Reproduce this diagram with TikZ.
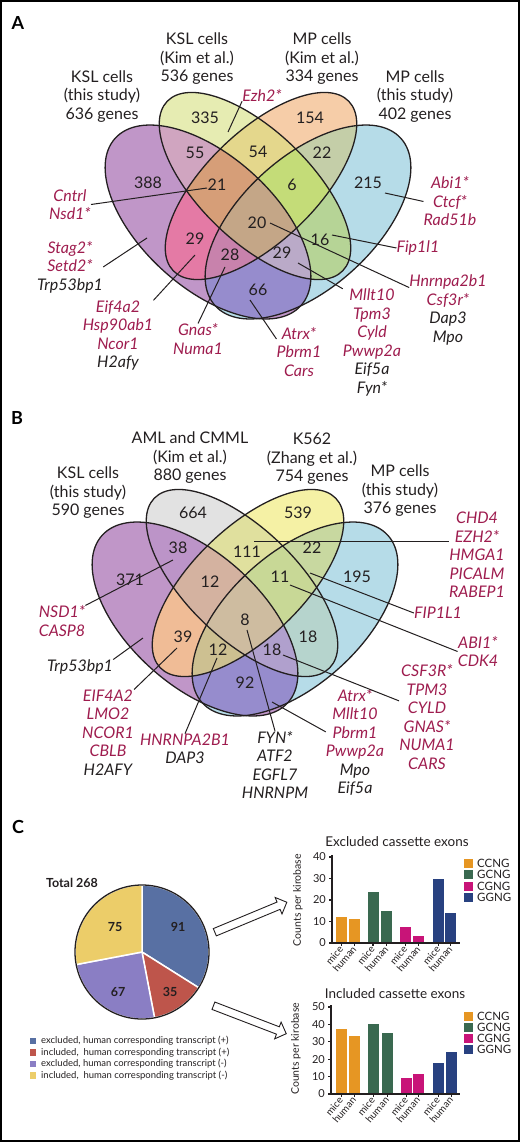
\documentclass[tikz,border=0pt]{standalone}
\usepackage{fontspec}
\setmainfont{Lato}
\usetikzlibrary{shapes.arrows}

% colours of the labels, the pie and the bars
\definecolor{gred}{RGB}{158,28,78}
\definecolor{ink}{RGB}{35,31,32}
\definecolor{pBlue}{RGB}{88,112,163}
\definecolor{pRed}{RGB}{190,85,75}
\definecolor{pPurple}{RGB}{138,126,196}
\definecolor{pYellow}{RGB}{236,205,105}
\definecolor{bCC}{RGB}{230,150,35}
\definecolor{bGC}{RGB}{58,105,80}
\definecolor{bCG}{RGB}{200,20,120}
\definecolor{bGG}{RGB}{40,65,128}

\newcommand{\blk}[1]{\textcolor{ink}{#1}}

% The four ellipses of a venn panel (coordinates of panel A)
\def\ellA{(208,222) ellipse (125 and 66)}   % outer left
\def\ellB{(255,186) ellipse (122 and 55)}   % inner left
\def\ellC{(261,186) ellipse (122 and 55)}   % inner right
\def\ellD{(308,222) ellipse (125 and 66)}   % outer right
\def\bigbox{(-300,-300) rectangle (800,800)}

% One region: 1 = inside, 0 = outside, for A, B, C, D, then its RGB colour
\newcommand{\vregion}[5]{%
    \begin{scope}[even odd rule]
        \ifnum#1=1 \clip[rotA] \ellA; \else \clip[rotA] \bigbox \ellA; \fi
        \ifnum#2=1 \clip[rotB] \ellB; \else \clip[rotB] \bigbox \ellB; \fi
        \ifnum#3=1 \clip[rotC] \ellC; \else \clip[rotC] \bigbox \ellC; \fi
        \ifnum#4=1 \clip[rotD] \ellD; \else \clip[rotD] \bigbox \ellD; \fi
        \definecolor{vtmp}{RGB}{#5}
        \fill[vtmp] \bigbox;
    \end{scope}}

\begin{document}
\begin{tikzpicture}[
    x=1pt, y=-1pt,
    rotA/.style={rotate around={-42:(208,222)}},
    rotB/.style={rotate around={-44:(255,186)}},
    rotC/.style={rotate around={44:(261,186)}},
    rotD/.style={rotate around={42:(308,222)}},
    venn/.style={line width=1.3pt, ink},
    lead/.style={line width=1pt, ink},
    num/.style={font=\fontsize{16}{18}\selectfont, inner sep=0pt, ink},
    head/.style={font=\fontsize{16}{18.5}\selectfont, align=center, inner sep=0pt, ink},
    gene/.style={font=\fontsize{16}{18.5}\selectfont\itshape, align=center, inner sep=0pt, text=gred},
    letter/.style={font=\fontsize{18}{18}\selectfont\bfseries, inner sep=0pt},
    pienum/.style={font=\fontsize{12.5}{13}\selectfont\bfseries, inner sep=0pt, ink},
    axis/.style={line width=1.3pt, ink},
    tick/.style={font=\fontsize{11}{11}\selectfont, inner sep=0pt, ink},
    xlab/.style={font=\fontsize{10}{10}\selectfont, rotate=50, anchor=east, inner sep=0.5pt, ink},
    ylab/.style={font=\fontsize{10.5}{11}\selectfont, rotate=90, inner sep=0pt, ink},
    ttl/.style={font=\fontsize{13.5}{14}\selectfont, inner sep=0pt, ink},
    leg/.style={font=\fontsize{11.5}{12}\selectfont, inner sep=0pt, anchor=west, ink},
    hollow/.style={single arrow, draw=ink, fill=white, line width=0.9pt, minimum height=78pt,
        inner sep=3.5pt, single arrow head extend=5pt}
    ]

    % Determines the boundries
    \useasboundingbox (0,0) rectangle (520,1142);
    \draw[line width=2pt] (1,1) rectangle (519,1141);

    %%%%%%%%%%%%%%%%%%%%%%%% Panel A
    \node[letter] (lA) at (18,23) {A};

    % Region fills
    \vregion{1}{0}{0}{0}{192,150,200}
    \vregion{0}{1}{0}{0}{230,236,178}
    \vregion{0}{0}{1}{0}{246,205,168}
    \vregion{0}{0}{0}{1}{182,220,232}
    \vregion{1}{1}{0}{0}{208,165,192}
    \vregion{0}{1}{1}{0}{228,215,140}
    \vregion{0}{0}{1}{1}{196,206,168}
    \vregion{1}{0}{0}{1}{150,140,205}
    \vregion{1}{0}{1}{0}{228,122,165}
    \vregion{0}{1}{0}{1}{182,212,150}
    \vregion{1}{1}{1}{0}{214,158,120}
    \vregion{0}{1}{1}{1}{196,220,120}
    \vregion{1}{1}{0}{1}{186,170,200}
    \vregion{1}{0}{1}{1}{200,130,172}
    \vregion{1}{1}{1}{1}{196,166,135}

    % Outlines
    \draw[venn, rotA] \ellA;
    \draw[venn, rotB] \ellB;
    \draw[venn, rotC] \ellC;
    \draw[venn, rotD] \ellD;

    % Set names
    \node[head] (hA1) at (102,96.5) {KSL cells\\(this study)\\636 genes};
    \node[head] (hA2) at (197,59) {KSL cells\\(Kim et al.)\\536 genes};
    \node[head] (hA3) at (322,59) {MP cells\\(Kim et al.)\\334 genes};
    \node[head] (hA4) at (415,96.5) {MP cells\\(this study)\\402 genes};

    % Counts
    \foreach \x/\y/\t/\n in {148/183/388/a1, 205/118/335/a2, 310/118/154/a3, 368/183/215/a4,
        195/153/55/a5, 258/152/54/a6, 322/153/22/a7, 217/185/21/a8, 292/185/6/a9,
        195/239/29/a10, 257/223/20/a11, 320/240/16/a12, 230/255/28/a13, 282/253/29/a14, 258/290/66/a15}
        \node[num] (n\n) at (\x,\y) {\t};

    % Genes
    \node[gene] (gEzh) at (262,95) {Ezh2*};
    \node[gene] (gCnt) at (70,204.5) {Cntrl\\Nsd1*};
    \node[gene] (gSta) at (70,267) {Stag2*\\Setd2*\\\blk{Trp53bp1}};
    \node[gene] (gEif) at (118,335.5) {Eif4a2\\Hsp90ab1\\Ncor1\\\blk{H2afy}};
    \node[gene] (gGna) at (198,339) {Gnas*\\Numa1};
    \node[gene] (gAbi) at (450,201.5) {Abi1*\\Ctcf*\\Rad51b};
    \node[gene] (gFip) at (418,248) {Fip1l1};
    \node[gene] (gHnr) at (448,310) {Hnrnpa2b1\\Csf3r*\\\blk{Dap3}\\\blk{Mpo}};
    \node[gene] (gMll) at (372,342.5) {Mllt10\\Tpm3\\Cyld\\Pwwp2a\\\blk{Eif5a}\\\blk{Fyn*}};
    \node[gene] (gAtr) at (299,352) {Atrx*\\Pbrm1\\Cars};

    \coordinate (pEzh) at (228,132);
    \coordinate (pCnt) at (207,188);
    \coordinate (pSta) at (147,238);
    \coordinate (pEif) at (195,255);
    \coordinate (pGna) at (225,267);
    \coordinate (pAbi) at (385,193);
    \coordinate (pFip) at (332,235);
    \coordinate (pHnr) at (270,223);
    \coordinate (pMll) at (298,263);
    \coordinate (pAtr) at (250,300);

    \draw[lead] (pEzh) -- (gEzh.south west);
    \draw[lead] (pCnt) -- (gCnt.east);
    \draw[lead] (pSta) -- (gSta.east);
    \draw[lead] (pEif) -- (gEif.north east);
    \draw[lead] (pGna) -- (gGna.north);
    \draw[lead] (pAbi) -- (gAbi.west);
    \draw[lead] (pFip) -- (gFip.west);
    \draw[lead] (pHnr) -- (gHnr.150);
    \draw[lead] (pMll) -- (gMll.north west);
    \draw[lead] (pAtr) -- (gAtr.150);

    %%%%%%%%%%%%%%%%%%%%%%%% Panel B
    \node[letter] (lB) at (17,418) {B};

    \begin{scope}[shift={(-13,397)}]
        \vregion{1}{0}{0}{0}{192,150,200}
        \vregion{0}{1}{0}{0}{226,226,226}
        \vregion{0}{0}{1}{0}{245,241,165}
        \vregion{0}{0}{0}{1}{182,220,232}
        \vregion{1}{1}{0}{0}{188,148,200}
        \vregion{0}{1}{1}{0}{224,224,158}
        \vregion{0}{0}{1}{1}{200,216,160}
        \vregion{1}{0}{0}{1}{150,140,205}
        \vregion{1}{0}{1}{0}{240,188,150}
        \vregion{0}{1}{0}{1}{182,212,205}
        \vregion{1}{1}{1}{0}{212,178,160}
        \vregion{0}{1}{1}{1}{200,216,150}
        \vregion{1}{1}{0}{1}{176,160,205}
        \vregion{1}{0}{1}{1}{205,192,145}
        \vregion{1}{1}{1}{1}{206,188,160}

        \draw[venn, rotA] \ellA;
        \draw[venn, rotB] \ellB;
        \draw[venn, rotC] \ellC;
        \draw[venn, rotD] \ellD;
    \end{scope}

    \node[head] (hB1) at (88,493) {KSL cells\\(this study)\\590 genes};
    \node[head] (hB2) at (190,458) {AML and CMML\\(Kim et al.)\\880 genes};
    \node[head] (hB3) at (312,459) {K562\\(Zhang et al.)\\754 genes};
    \node[head] (hB4) at (400,491) {MP cells\\(this study)\\376 genes};

    \foreach \x/\y/\t/\n in {130/580/371/b1, 193/513/664/b2, 298/513/539/b3, 357/577/195/b4,
        178/548/38/b5, 247/552/111/b6, 312/548/22/b7, 210/582/12/b8, 280/577/11/b9,
        183/637/39/b10, 245/620/8/b11, 308/637/18/b12, 218/650/12/b13, 272/650/18/b14, 245/683/92/b15}
        \node[num] (n\n) at (\x,\y) {\t};

    \node[gene] (gNsd) at (62,621) {NSD1*\\CASP8};
    \node[gene, text=ink] (gTrp) at (80,667) {Trp53bp1};
    \node[gene] (gEIF) at (108,732.5) {EIF4A2\\LMO2\\NCOR1\\CBLB\\\blk{H2AFY}};
    \node[gene] (gHNR) at (185,749) {HNRNPA2B1\\\blk{DAP3}};
    \node[gene, text=ink] (gFYN) at (275,765) {FYN*\\ATF2\\EGFL7\\HNRNPM};
    \node[gene] (gATR) at (355,742.5) {Atrx*\\Mllt10\\Pbrm1\\Pwwp2a\\\blk{Mpo}\\\blk{Eif5a}};
    \node[gene] (gCSF) at (427,717) {CSF3R*\\TPM3\\CYLD\\GNAS*\\NUMA1\\CARS};
    \node[gene] (gABI) at (478,651.5) {ABI1*\\CDK4};
    \node[gene] (gFIP) at (438,613) {FIP1L1};
    \node[gene] (gCHD) at (477,555) {CHD4\\EZH2*\\HMGA1\\PICALM\\RABEP1};

    \coordinate (pNsd) at (173,560);
    \coordinate (pTrp) at (143,638);
    \coordinate (pEIF) at (177,648);
    \coordinate (pHNR) at (217,658);
    \coordinate (pFYN) at (247,630);
    \coordinate (pATR) at (272,702);
    \coordinate (pCSF) at (283,655);
    \coordinate (pABI) at (290,585);
    \coordinate (pFIP) at (310,573);
    \coordinate (pCHD) at (254,541);

    \draw[lead] (pNsd) -- (gNsd.north east);
    \draw[lead] (pTrp) -- (gTrp.north east);
    \draw[lead] (pEIF) -- (gEIF.north east);
    \draw[lead] (pHNR) -- (gHNR.north);
    \draw[lead] (pFYN) -- (gFYN.north);
    \draw[lead] (pATR) -- (gATR.160);
    \draw[lead] (pCSF) -- (gCSF.150);
    \draw[lead] (pABI) -- (gABI.west);
    \draw[lead] (pFIP) -- (gFIP.west);
    \draw[lead] (pCHD) -- (gCHD.west |- pCHD);

    %%%%%%%%%%%%%%%%%%%%%%%% Panel C
    \node[letter] (lC) at (18,827) {C};
    \node[pienum] (tot) at (72,883) {Total 268};

    % Pie
    \begin{scope}[shift={(142,952)}, y=1pt]
        \def\r{67}
        \foreach \a/\b/\c in {90/-32.2/pBlue, -32.2/-79.2/pRed, -79.2/-169.2/pPurple, -169.2/-270/pYellow}{
            \fill[\c, draw=white, line width=1.5pt] (0,0) -- (\a:\r)
                arc[start angle=\a, end angle=\b, radius=\r] -- cycle;
        }
        \draw[line width=1.3pt, ink] (0,0) circle (\r);
        \foreach \x/\y/\t in {36/25/91, -27/25/75, -24/-40/67, 28/-40/35}
            \node[pienum] (s\t) at (\x,\y) {\t};
    \end{scope}

    % Pie legend
    \foreach \y/\c/\t in {1041/pBlue/{excluded, human corresponding transcript (+)},
                          1052.5/pRed/{included,\ \ human corresponding transcript (+)},
                          1064/pPurple/{excluded, human corresponding transcript (-)},
                          1075.5/pYellow/{included,\ \ human corresponding transcript (-)}}{
        \node[fill=\c, minimum size=6.5pt, inner sep=0pt] (k\c) at (33,\y) {};
        \node[anchor=west, font=\fontsize{9.5}{10}\selectfont, inner sep=0pt, ink] (t\c) at (41,\y) {\t};
    }

    % Arrows to the charts
    \node[hollow, rotate=22.6] (arUp) at (249,918) {};
    \node[hollow, rotate=-21] (arDn) at (248,1019) {};

    % Excluded cassette exons
    \begin{scope}[shift={(332,943)}, y=2.15pt]
        \foreach \xa/\h/\c in {4/12/bCC, 17/11.2/bCC, 36/23.7/bGC, 49/14.9/bGC,
                               68/7.4/bCG, 81/3.1/bCG, 101/29.6/bGG, 113/14/bGG}
            \fill[\c] (\xa,0) rectangle ++(11,\h);
        \draw[axis] (0,41) -- (0,0) -- (128,0);
        \foreach \v in {0,10,...,40}{
            \draw[axis] (0,\v) -- (-3,\v);
            \node[tick, anchor=east] (yE\v) at (-6,\v) {\v};
        }
        \foreach \xa/\t [count=\i] in {9.5/mice, 22.5/human, 41/mice, 54.5/human,
                                       73.5/mice, 86.5/human, 106.5/mice, 118.5/human}{
            \draw[axis] (\xa,0) -- (\xa,-1.4);
            \node[xlab] (xE\i) at (\xa,-1.8) {\t};
        }
        \node[ylab] (yAxE) at (-34,20) {Counts per kirobase};
        \node[ttl] (ttE) at (65,47) {Excluded cassette exons};
    \end{scope}
    \foreach \y/\c/\t [count=\i] in {863/bCC/CCNG, 874.5/bGC/GCNG, 886/bCG/CGNG, 897.5/bGG/GGNG}{
        \node[fill=\c, minimum size=9pt, inner sep=0pt] (kE\i) at (468.5,\y) {};
        \node[leg] (lE\i) at (477,\y) {\t};
    }

    % Included cassette exons
    \begin{scope}[shift={(331,1094)}, y=1.74pt]
        \foreach \xa/\h/\c in {5/37.2/bCC, 18/33.5/bCC, 37/40/bGC, 51/34.8/bGC,
                               70/9.1/bCG, 82/11.5/bCG, 102/18/bGG, 115/24/bGG}
            \fill[\c] (\xa,0) rectangle ++(10.5,\h);
        \draw[axis] (0,51) -- (0,0) -- (129,0);
        \foreach \v in {0,10,...,50}{
            \draw[axis] (0,\v) -- (-3,\v);
            \node[tick, anchor=east] (yI\v) at (-6,\v) {\v};
        }
        \foreach \xa/\t [count=\i] in {10.25/mice, 23.25/human, 42.25/mice, 56.25/human,
                                       75.25/mice, 87.25/human, 107.25/mice, 120.25/human}{
            \draw[axis] (\xa,0) -- (\xa,-1.7);
            \node[xlab] (xI\i) at (\xa,-2.2) {\t};
        }
        \node[ylab] (yAxI) at (-35,26) {Counts per kirobase};
        \node[ttl] (ttI) at (64,58) {Included cassette exons};
    \end{scope}
    \foreach \y/\c/\t [count=\i] in {1016/bCC/CCNG, 1027/bGC/GCNG, 1038/bCG/CGNG, 1049/bGG/GGNG}{
        \node[fill=\c, minimum size=9pt, inner sep=0pt] (kI\i) at (468.5,\y) {};
        \node[leg] (lI\i) at (477,\y) {\t};
    }

\end{tikzpicture}
\end{document}
